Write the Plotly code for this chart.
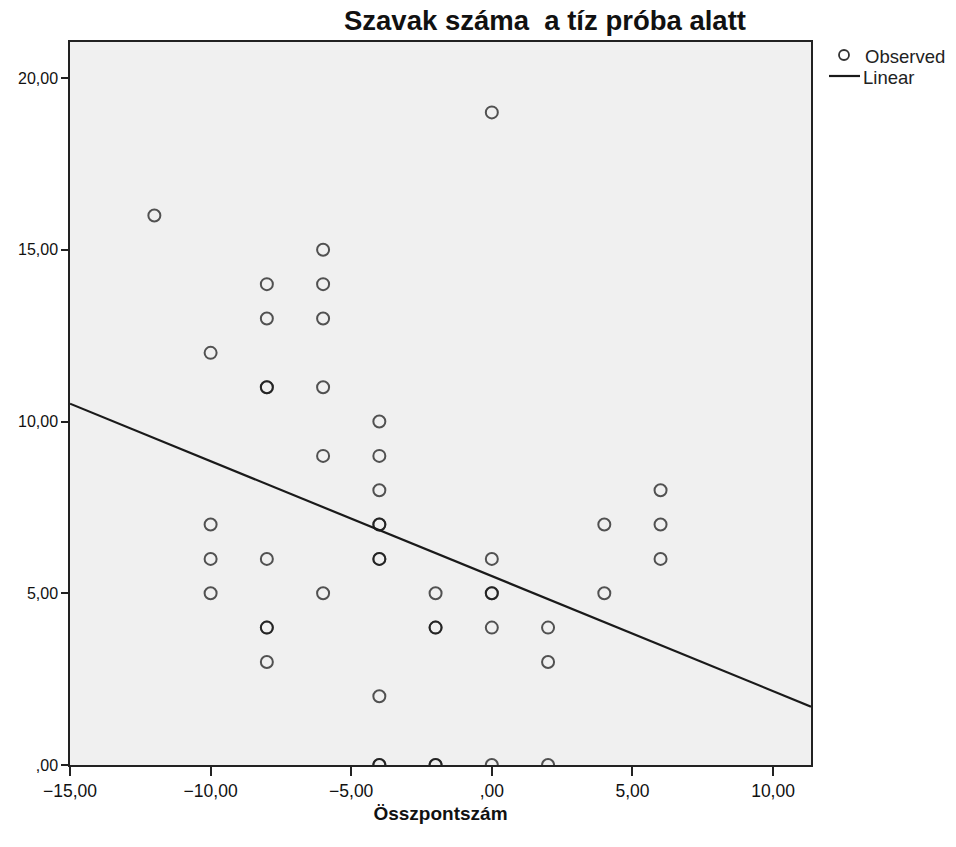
import plotly.graph_objects as go

# Observed scores: total score (x) vs. number of words over the ten trials (y)
obs_x = [-12,
         -10, -10, -10, -10,
         -8, -8, -8, -8, -8, -8, -8, -8,
         -6, -6, -6, -6, -6, -6,
         -4, -4, -4, -4, -4, -4, -4, -4, -4, -4,
         -2, -2, -2, -2, -2,
         0, 0, 0, 0, 0, 0,
         2, 2, 2,
         4, 4,
         6, 6, 6]
obs_y = [16,
         12, 7, 6, 5,
         14, 13, 11, 11, 6, 4, 4, 3,
         15, 14, 13, 11, 9, 5,
         10, 9, 8, 7, 7, 6, 6, 2, 0, 0,
         5, 4, 4, 0, 0,
         19, 6, 5, 5, 4, 0,
         4, 3, 0,
         7, 5,
         8, 7, 6]

# Linear fit line, end points across the x range
linear_x = [-15, 11.35]
linear_y = [10.52, 1.70]

x_tickvals = [-15, -10, -5, 0, 5, 10]
x_ticktext = ["\u221215,00", "\u221210,00", "\u22125,00", ",00", "5,00", "10,00"]
y_tickvals = [0, 5, 10, 15, 20]
y_ticktext = [",00", "5,00", "10,00", "15,00", "20,00"]

FONT = "Liberation Sans, Arial, sans-serif"

# plot area in pixels: left 70, right 811, top 42, bottom 765
PL, PR, PT, PB = 70, 811, 42, 765


def px_x(v):
    return (v - PL) / (PR - PL)


def px_y(v):
    return (PB - v) / (PB - PT)


fig = go.Figure()
fig.add_trace(go.Scatter(
    x=obs_x, y=obs_y, mode="markers", name="Observed",
    marker=dict(symbol="circle-open", size=12, color="rgba(20,20,20,0.72)",
                line=dict(width=2, color="rgba(20,20,20,0.72)")),
    cliponaxis=True, showlegend=False,
))
fig.add_trace(go.Scatter(
    x=linear_x, y=linear_y, mode="lines", name="Linear",
    line=dict(color="#1a1a1a", width=2.2), showlegend=False,
))

# Legend drawn with shapes and labels to the right of the plot area
fig.add_shape(type="circle", xref="paper", yref="paper",
              x0=px_x(839), x1=px_x(849), y0=px_y(60), y1=px_y(50),
              line=dict(color="#333", width=1.8), fillcolor="rgba(0,0,0,0)")
fig.add_shape(type="line", xref="paper", yref="paper",
              x0=px_x(829), x1=px_x(860), y0=px_y(76), y1=px_y(76),
              line=dict(color="#1a1a1a", width=2.2))
fig.add_annotation(text="Observed", xref="paper", yref="paper",
                   x=px_x(863), y=px_y(56),
                   xanchor="left", yanchor="middle", showarrow=False,
                   font=dict(family=FONT, size=18.5, color="#222"))
fig.add_annotation(text="Linear", xref="paper", yref="paper",
                   x=px_x(861), y=px_y(77),
                   xanchor="left", yanchor="middle", showarrow=False,
                   font=dict(family=FONT, size=18.5, color="#222"))

fig.update_layout(
    width=956, height=847,
    margin=dict(l=PL, r=956 - PR, t=PT, b=847 - PB),
    paper_bgcolor="white", plot_bgcolor="#f0f0f0",
    title=dict(text="<b>Szavak száma  a tíz próba alatt</b>",
               x=0.641, xref="paper", xanchor="center",
               y=1 - 20 / 847, yref="container", yanchor="middle",
               font=dict(family=FONT, size=27.5, color="#111")),
    font=dict(family=FONT, color="#111"),
)
fig.update_xaxes(
    range=[-15, 11.35], tickvals=x_tickvals, ticktext=x_ticktext,
    showgrid=False, zeroline=False,
    showline=True, mirror=True, linecolor="#222", linewidth=1.5,
    ticks="outside", ticklen=9, tickwidth=1.5, tickcolor="#222",
    tickfont=dict(family=FONT, size=17.5, color="#111"),
    title=dict(text="<b>Összpontszám</b>", standoff=7,
               font=dict(family=FONT, size=19, color="#111")),
)
fig.update_yaxes(
    range=[0, 21.05], tickvals=y_tickvals, ticktext=y_ticktext,
    showgrid=False, zeroline=False,
    showline=True, mirror=True, linecolor="#222", linewidth=1.5,
    ticks="outside", ticklen=7, tickwidth=1.5, tickcolor="#222",
    tickfont=dict(family=FONT, size=16, color="#111"),
)

fig.write_html("out.html")
